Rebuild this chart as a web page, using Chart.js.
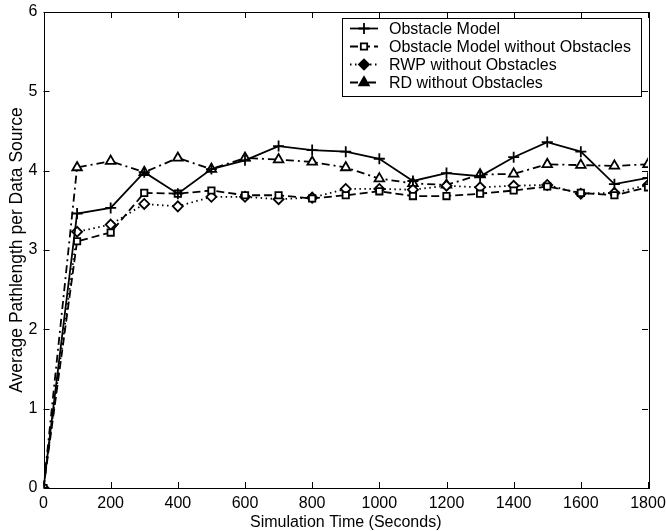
<!DOCTYPE html>
<html>
<head>
<meta charset="UTF-8">
<script src="https://cdn.jsdelivr.net/npm/chart.js"></script>
<style>
  body { margin: 0; background: #fff; }
  #wrap { width: 666px; height: 531px; }
</style>
</head>
<body>
<div id="wrap"><canvas id="chart" width="666" height="531"></canvas></div>
<script>
// Data
const times = [0, 100, 200, 300, 400, 500, 600, 700, 800, 900, 1000, 1100, 1200, 1300, 1400, 1500, 1600, 1700, 1800];
const obstacleModel = [0, 3.46, 3.53, 3.98, 3.71, 4.02, 4.13, 4.31, 4.26, 4.24, 4.15, 3.87, 3.97, 3.93, 4.17, 4.36, 4.24, 3.83, 3.91];
const obstacleNoObs = [0, 3.11, 3.22, 3.72, 3.71, 3.75, 3.69, 3.69, 3.65, 3.69, 3.74, 3.68, 3.68, 3.71, 3.75, 3.80, 3.72, 3.69, 3.79];
const rwpNoObs = [0, 3.23, 3.32, 3.58, 3.55, 3.67, 3.67, 3.64, 3.66, 3.77, 3.77, 3.76, 3.81, 3.79, 3.81, 3.82, 3.71, 3.72, 3.82];
const rdNoObs = [0, 4.04, 4.12, 3.98, 4.16, 4.02, 4.16, 4.14, 4.11, 4.04, 3.90, 3.84, 3.82, 3.95, 3.96, 4.08, 4.07, 4.06, 4.08];
const seriesNames = ['Obstacle Model', 'Obstacle Model without Obstacles', 'RWP without Obstacles', 'RD without Obstacles'];
const xTicks = [0, 200, 400, 600, 800, 1000, 1200, 1400, 1600, 1800];
const yTicks = [0, 1, 2, 3, 4, 5, 6];

const FONT = '"Liberation Sans", Arial, Helvetica, sans-serif';

function pts(values) {
    return times.map((t, i) => ({ x: t, y: values[i] }));
}

function series(label, values, dash, style, radius, legendFill) {
    return {
        label: label,
        data: pts(values),
        borderColor: '#000',
        borderWidth: 1.8,
        borderDash: dash,
        backgroundColor: '#fff',
        pointStyle: style,
        pointRadius: radius,
        pointBorderWidth: 1.8,
        pointBorderColor: '#000',
        pointBackgroundColor: '#fff',
        legendFill: legendFill,
        tension: 0,
        fill: false
    };
}

const datasets = [
    series(seriesNames[0], obstacleModel, [], 'cross', 5.5, '#000'),
    series(seriesNames[1], obstacleNoObs, [8, 4], 'rect', 4.5, '#fff'),
    series(seriesNames[2], rwpNoObs, [1.5, 3.5], 'rectRot', 5, '#000'),
    series(seriesNames[3], rdNoObs, [8, 4, 2, 4], 'triangle', 5.5, '#000')
];

// scale label overhang should not push the plot area in
function noOverhang(s) {
    s.paddingTop = 0; s.paddingBottom = 0; s.paddingLeft = 0; s.paddingRight = 0;
}

// frame with inward ticks, matlab style, plus the boxed legend
const framePlugin = {
    id: 'frame',
    afterDatasetsDraw(chart) {
        const { ctx, chartArea: a, scales } = chart;
        ctx.save();
        ctx.strokeStyle = '#000';
        ctx.lineWidth = 1;
        ctx.setLineDash([]);
        ctx.strokeRect(Math.round(a.left) + 0.5, Math.round(a.top) + 0.5,
                       Math.round(a.right - a.left), Math.round(a.bottom - a.top));
        const len = 6;
        ctx.beginPath();
        xTicks.forEach(v => {
            const x = Math.round(scales.x.getPixelForValue(v)) + 0.5;
            ctx.moveTo(x, a.bottom); ctx.lineTo(x, a.bottom - len);
            ctx.moveTo(x, a.top); ctx.lineTo(x, a.top + len);
        });
        yTicks.forEach(v => {
            const y = Math.round(scales.y.getPixelForValue(v)) + 0.5;
            ctx.moveTo(a.left, y); ctx.lineTo(a.left + len, y);
            ctx.moveTo(a.right, y); ctx.lineTo(a.right - len, y);
        });
        ctx.stroke();
        ctx.restore();
    },
    afterDraw(chart) {
        const { ctx, chartArea: a } = chart;
        const boxL = Math.round(a.right - 306), boxT = Math.round(a.top + 6), boxW = 299, boxH = 78;
        ctx.save();
        ctx.fillStyle = '#fff';
        ctx.fillRect(boxL, boxT, boxW, boxH);
        ctx.strokeStyle = '#000';
        ctx.lineWidth = 1;
        ctx.setLineDash([]);
        ctx.strokeRect(boxL + 0.5, boxT + 0.5, boxW, boxH);
        ctx.font = '16px ' + FONT;
        ctx.textBaseline = 'middle';
        chart.data.datasets.forEach((ds, i) => {
            const y = boxT + 10.5 + i * 18;
            const x0 = boxL + 8, x1 = boxL + 36;
            ctx.strokeStyle = '#000';
            ctx.lineWidth = ds.borderWidth;
            ctx.setLineDash(ds.borderDash);
            ctx.beginPath();
            ctx.moveTo(x0, y); ctx.lineTo(x1, y);
            ctx.stroke();
            ctx.setLineDash([]);
            ctx.fillStyle = ds.legendFill;
            ctx.lineWidth = ds.pointBorderWidth;
            Chart.helpers.drawPoint(ctx, {
                pointStyle: ds.pointStyle, radius: ds.pointRadius,
                borderWidth: ds.pointBorderWidth, rotation: 0
            }, (x0 + x1) / 2, y);
            ctx.fillStyle = '#000';
            ctx.fillText(ds.label, boxL + 47, y + 1);
        });
        ctx.restore();
    }
};

new Chart(document.getElementById('chart'), {
    type: 'line',
    data: { datasets: datasets },
    options: {
        responsive: false,
        animation: false,
        layout: { autoPadding: false, padding: { left: 7, right: 18, top: 12, bottom: 0 } },
        plugins: { legend: { display: false }, tooltip: { enabled: false } },
        scales: {
            x: {
                type: 'linear', min: 0, max: 1800,
                grid: { display: false, drawTicks: false },
                border: { display: false },
                afterBuildTicks: s => { s.ticks = xTicks.map(v => ({ value: v })); },
                afterFit: s => { s.height = 43; noOverhang(s); },
                ticks: { color: '#000', font: { family: FONT, size: 16 }, padding: 6, maxRotation: 0,
                         callback: v => String(v) },
                title: { display: true, text: 'Simulation Time (Seconds)', color: '#000',
                         font: { family: FONT, size: 16, lineHeight: 1.1 }, padding: { top: 0, bottom: 0 } }
            },
            y: {
                min: 0, max: 6,
                grid: { display: false, drawTicks: false },
                border: { display: false },
                afterBuildTicks: s => { s.ticks = yTicks.map(v => ({ value: v })); },
                afterFit: s => { s.width = 36.5; noOverhang(s); },
                ticks: { color: '#000', font: { family: FONT, size: 16 }, padding: 6,
                         callback: v => String(v) },
                title: { display: true, text: 'Average Pathlength per Data Source', color: '#000',
                         font: { family: FONT, size: 17.5 }, padding: { top: 0, bottom: 0 } }
            }
        }
    },
    plugins: [framePlugin]
});
</script>
</body>
</html>
